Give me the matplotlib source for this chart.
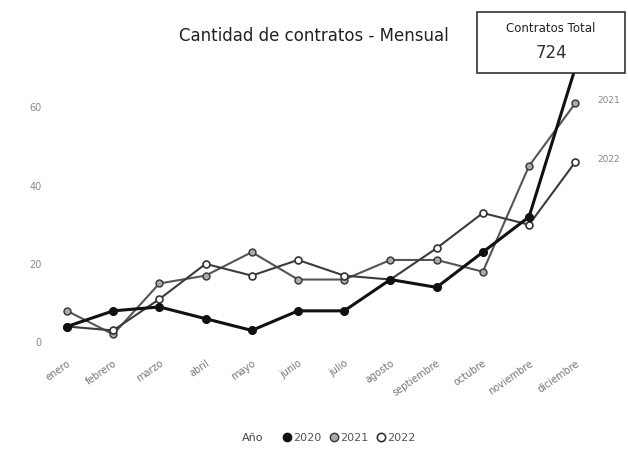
import matplotlib.pyplot as plt
from matplotlib.patches import Rectangle
from matplotlib.lines import Line2D

meses = ['enero', 'febrero', 'marzo', 'abril', 'mayo', 'junio', 'julio',
         'agosto', 'septiembre', 'octubre', 'noviembre', 'diciembre']
c2020 = [4, 8, 9, 6, 3, 8, 8, 16, 14, 23, 32, 70]
c2021 = [8, 2, 15, 17, 23, 16, 16, 21, 21, 18, 45, 61]
c2022 = [4, 3, 11, 20, 17, 21, 17, 16, 24, 33, 30, 46]
yticks = [0, 20, 40, 60]
total = 724

fig = plt.figure(figsize=(6.28, 4.58), dpi=100)
ax = fig.add_axes([0.0796, 0.2358, 0.868, 0.7009])

x = list(range(len(meses)))
ax.plot(x, c2021, color='#555555', lw=1.5, marker='o', ms=5,
        mfc='#aaaaaa', mec='#333333', mew=1.0, zorder=2)
ax.plot(x, c2022, color='#3c3c3c', lw=1.5, marker='o', ms=5,
        mfc='white', mec='#333333', mew=1.2, zorder=2)
ax.plot(x, c2020, color='#111111', lw=2.2, marker='o', ms=5.5,
        mfc='#111111', mec='#111111', zorder=3)

ax.set_xlim(-0.368, 11.43)
ax.set_ylim(-2, 80)
ax.set_yticks(yticks)
ax.set_yticklabels([str(v) for v in yticks], color='#8a8a8a', fontsize=7)
ax.set_xticks(x)
ax.set_xticklabels(meses, rotation=35, ha='right', rotation_mode='anchor',
                   color='#777777', fontsize=7)
ax.tick_params(length=0, pad=6)
for s in ax.spines.values():
    s.set_visible(False)

# etiquetas al final de las series
ax.annotate('2021', (11, c2021[-1]), xytext=(16, 2), textcoords='offset points',
            fontsize=6.5, color='#888888', va='center', annotation_clip=False)
ax.annotate('2022', (11, c2022[-1]), xytext=(16, 2), textcoords='offset points',
            fontsize=6.5, color='#888888', va='center', annotation_clip=False)

fig.text(0.5, 0.922, 'Cantidad de contratos - Mensual', ha='center', va='center',
         fontsize=12, color='#222222')

# tarjeta del total
fig.patches.append(Rectangle((477 / 628, 1 - 73 / 458), 148 / 628, 61 / 458,
                             transform=fig.transFigure, facecolor='white',
                             edgecolor='#333333', lw=1.2, zorder=5))
fig.text(551 / 628, 1 - 28 / 458, 'Contratos Total', ha='center', va='center',
         fontsize=8.5, color='#222222', zorder=6)
fig.text(551 / 628, 1 - 53 / 458, str(total), ha='center', va='center',
         fontsize=12, color='#333333', zorder=6)

# leyenda
fig.text(0.402, 1 - 438 / 458, 'Año', ha='center', va='center',
         fontsize=8, color='#444444')
handles = [
    Line2D([], [], ls='none', marker='o', ms=6, mfc='#111111', mec='#111111'),
    Line2D([], [], ls='none', marker='o', ms=6, mfc='#aaaaaa', mec='#333333'),
    Line2D([], [], ls='none', marker='o', ms=6, mfc='white', mec='#333333', mew=1.2),
]
fig.legend(handles, ['2020', '2021', '2022'], loc='center',
           bbox_to_anchor=(0.555, 1 - 438 / 458), ncol=3, frameon=False,
           fontsize=8, labelcolor='#555555', handletextpad=0.1,
           columnspacing=0.6, handlelength=1.0)

fig.savefig('out.png', dpi=100)
